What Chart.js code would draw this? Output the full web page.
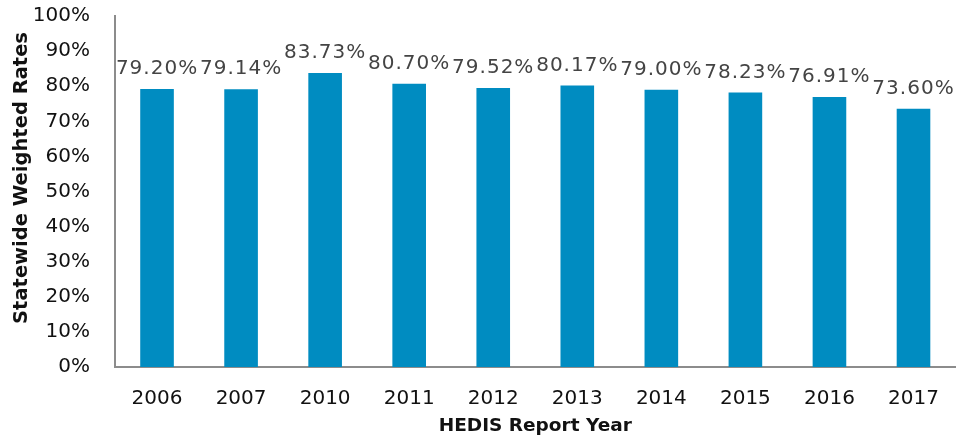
<!DOCTYPE html>
<html>
<head>
<meta charset="utf-8">
<script src="https://cdn.jsdelivr.net/npm/chart.js@4/dist/chart.umd.min.js"></script>
<style>
	html, body { margin: 0; padding: 0; background: #fff; }
	#wrap { width: 959px; height: 439px; position: relative; }
</style>
</head>
<body>
<div id="wrap"><canvas id="barChart"></canvas></div>
<script>
var years = ['2006', '2007', '2010', '2011', '2012', '2013', '2014', '2015', '2016', '2017'];
var rates = [79.20, 79.14, 83.73, 80.70, 79.52, 80.17, 79.00, 78.23, 76.91, 73.60];
var yTicks = [0, 10, 20, 30, 40, 50, 60, 70, 80, 90, 100];

var barColor = '#008CC1';
var axisColor = '#8C8C8C';

// value labels above each bar + rotated y title
var valueLabels = {
	id: 'valueLabels',
	afterDatasetsDraw: function(chart) {
		var ctx = chart.ctx;
		var meta = chart.getDatasetMeta(0);
		ctx.save();
		ctx.font = '20px "DejaVu Sans"';
		ctx.letterSpacing = '1px';
		ctx.fillStyle = '#444';
		ctx.textAlign = 'center';
		ctx.textBaseline = 'bottom';
		meta.data.forEach(function(bar, i) {
			ctx.fillText(rates[i].toFixed(2) + '%', bar.x, bar.y - 10);
		});
		ctx.restore();

		ctx.save();
		ctx.font = 'bold 19.5px "DejaVu Sans"';
		ctx.fillStyle = '#111';
		ctx.textAlign = 'center';
		ctx.textBaseline = 'middle';
		ctx.translate(22, 178);
		ctx.rotate(-Math.PI / 2);
		ctx.fillText('Statewide Weighted Rates', 0, 0);
		ctx.restore();
	}
};

var ctx = document.getElementById('barChart');
var barChart = new Chart(ctx, {
	type: 'bar',
	data: {
		labels: years,
		datasets: [{
			label: 'Statewide Weighted Rates',
			data: rates,
			backgroundColor: barColor,
			borderWidth: 0,
			barPercentage: 0.4,
			categoryPercentage: 1
		}]
	},
	options: {
		responsive: true,
		maintainAspectRatio: false,
		animation: false,
		layout: { padding: { top: 1, right: 1, left: 0, bottom: 0 } },
		plugins: {
			legend: { display: false },
			tooltip: { enabled: false }
		},
		scales: {
			x: {
				grid: { display: false, drawTicks: false },
				border: { display: true, color: axisColor, width: 2 },
				ticks: {
					color: '#111',
					font: { family: 'DejaVu Sans', size: 20 },
					padding: 20,
					maxRotation: 0
				},
				title: {
					display: true,
					text: 'HEDIS Report Year',
					color: '#111',
					font: { family: 'DejaVu Sans', size: 18.5, weight: 'bold' },
					padding: { top: 0, bottom: 2 }
				},
				afterFit: function(scale) { scale.height = 72; }
			},
			y: {
				min: 0,
				max: 100,
				grid: { display: false, drawTicks: false },
				border: { display: true, color: axisColor, width: 2 },
				afterBuildTicks: function(scale) {
					scale.ticks = yTicks.map(function(v) { return { value: v }; });
				},
				ticks: {
					color: '#111',
					font: { family: 'DejaVu Sans', size: 20 },
					padding: 25,
					callback: function(v) { return v + '%'; }
				},
				afterFit: function(scale) {
					scale.width = 115;
					scale.paddingTop = 16;
					scale.paddingBottom = 0;
				}
			}
		}
	},
	plugins: [valueLabels]
});
</script>
</body>
</html>
